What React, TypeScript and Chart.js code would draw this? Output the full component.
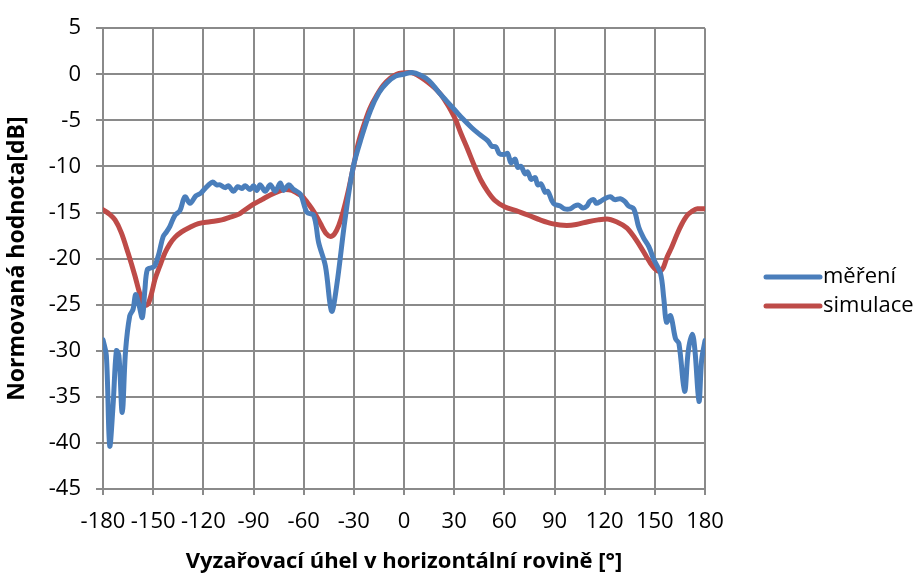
import React, { useEffect, useRef } from "react";
import { Chart, registerables } from "chart.js";

Chart.register(...registerables);

const xTicks = [-180, -150, -120, -90, -60, -30, 0, 30, 60, 90, 120, 150, 180];
const yTicks = [5, 0, -5, -10, -15, -20, -25, -30, -35, -40, -45];

const seriesNames = ["měření", "simulace"];

const measAngles = [
  -180, -178, -176, -174, -172, -170.5, -168.5, -166.5, -164, -162, -160.5, -158.5, -156.5, -155, -153.5,
  -151, -149, -146.5, -144, -142, -140, -137, -134, -131, -128, -124.5, -121.5, -118.5, -114.5, -112,
  -110, -107, -105, -102, -99.5, -97, -95, -92, -90, -88, -86, -83, -80, -77, -74, -72, -69, -66, -62,
  -58, -54, -51, -47, -43.3, -40.3, -35.3, -30.4, -25, -20, -15, -10, -5, 0, 4.6, 10, 15, 20.6, 25,
  30.5, 35, 40.5, 45, 50, 52.5, 55, 57, 60, 62, 64, 66.4, 68, 70, 72.4, 74, 76, 78.4, 80, 82, 84.4, 86,
  88.4, 90, 93.4, 96, 99.4, 102, 104.4, 107, 109.4, 111, 113.4, 115, 117.4, 120, 123.4, 126, 129.4, 132,
  134.4, 137.4, 140.4, 143.4, 146.4, 149.4, 153.4, 155.4, 157, 159.4, 162.4, 164.4, 167.8, 170, 172.4,
  174, 176.4, 178, 180,
];
const measValues = [
  -28.8, -30.5, -40.3, -36, -30, -30.5, -36.7, -30, -26.2, -25.5, -23.9, -25, -26.4, -23.5, -21.2,
  -21, -20.8, -19.4, -17.6, -17.1, -16.5, -15.3, -14.8, -13.3, -14, -13.2, -12.9, -12.3, -11.7, -12,
  -12, -12.3, -12.1, -12.7, -12.2, -12.4, -12.1, -12.5, -12.1, -12.6, -12.0, -12.7, -12.0, -12.7, -11.8,
  -12.6, -12.0, -12.5, -13, -15, -15.3, -18.3, -20.8, -25.7, -23, -15.8, -10.1, -6.6, -3.9, -2.0, -0.9,
  -0.2, 0, 0.2, -0.1, -0.7, -1.9, -2.8, -3.9, -4.8, -5.8, -6.5, -7.2, -7.8, -7.9, -8.6, -8.7, -8.6,
  -9.6, -9.2, -10.1, -10.0, -10.8, -10.6, -11.4, -11.2, -12.0, -11.9, -12.8, -12.7, -13.7, -14.1, -14.3,
  -14.6, -14.6, -14.3, -14.2, -14.5, -14.3, -13.8, -13.6, -14.0, -13.8, -13.5, -13.3, -13.6, -13.5,
  -13.8, -14.3, -14.6, -16.6, -17.8, -18.7, -20.1, -21.6, -24.4, -26.9, -26.2, -28.7, -29.2, -34.4, -30,
  -28.2, -30, -35.5, -31, -28.9,
];

const simAngles = [
  -180, -176, -172.8, -169, -165, -161, -158, -155, -153, -151, -149, -146, -143, -140, -137, -133, -128,
  -123, -116, -109, -104, -99, -95, -90, -85, -80, -75, -71, -67, -64, -60.6, -57, -53.6, -50, -46.5, -44,
  -41.5, -39, -36.7, -33, -30, -27.5, -24, -20.4, -16, -12.4, -8, -4.4, 0, 3, 6, 10, 14.5, 19, 22, 25, 28,
  31, 34, 38, 42, 46, 50, 54.4, 60.4, 67, 74.4, 81.4, 88.4, 97.4, 103, 110, 116, 121.4, 127, 133.4,
  137, 141.4, 145, 147.4, 150, 152.4, 155, 157.4, 160, 163.4, 166, 169.4, 172, 175.4, 180,
];
const simValues = [
  -14.7, -15.2, -15.8, -17.2, -19.4, -21.8, -23.8, -25.1, -24.9, -23.8, -22.3, -20.8, -19.4, -18.4, -17.7,
  -17.1, -16.6, -16.2, -16.0, -15.8, -15.5, -15.2, -14.7, -14.1, -13.6, -13.1, -12.7, -12.5, -12.6, -12.9,
  -13.3, -14.1, -15.0, -16.2, -17.3, -17.6, -17.3, -16.4, -15.1, -12.4, -9.8, -7.6, -5.5, -3.7, -2.2,
  -1.2, -0.4, 0, 0.15, 0.2, 0.1, -0.3, -0.9, -1.6, -2.2, -3.0, -3.9, -5.0, -6.4, -8.1, -9.9, -11.5, -12.7,
  -13.7, -14.4, -14.8, -15.3, -15.8, -16.2, -16.4, -16.3, -16, -15.8, -15.7, -16, -16.7, -17.5, -18.7,
  -19.8, -20.5, -21.1, -21.4, -21, -19.8, -18.8, -17.3, -16.3, -15.3, -14.9, -14.6, -14.6,
];

const seriesColors = ["#4A7EBB", "#BE4B48"];

const FONT = "'Open Sans', 'Liberation Sans', sans-serif";
const GRID = "#8a8a8a";

const legendPlugin = {
  id: "customLegend",
  afterDraw(chart: any) {
    const ctx = chart.ctx;
    ctx.save();
    chart.data.datasets.forEach((ds: any, i: number) => {
      const y = 277 + i * 29;
      ctx.strokeStyle = ds.borderColor;
      ctx.lineWidth = 5;
      ctx.lineCap = "round";
      ctx.beginPath();
      ctx.moveTo(766, y);
      ctx.lineTo(820, y);
      ctx.stroke();
      ctx.fillStyle = "#000";
      ctx.font = `22px ${FONT}`;
      ctx.textBaseline = "middle";
      ctx.textAlign = "left";
      ctx.fillText(ds.label, 823, y);
    });
    ctx.restore();
  },
};

export default function App() {
  const ref = useRef<HTMLCanvasElement>(null);
  useEffect(() => {
    if (!ref.current) return;
    const chart = new Chart(ref.current, {
      type: "line",
      data: {
        datasets: [
          {
            label: seriesNames[0],
            data: measAngles.map((a, i) => ({ x: a, y: measValues[i] })),
            borderColor: seriesColors[0],
            backgroundColor: seriesColors[0],
            borderWidth: 5,
            pointRadius: 0,
            tension: 0.35,
            borderCapStyle: "round",
            borderJoinStyle: "round",
          },
          {
            label: seriesNames[1],
            data: simAngles.map((a, i) => ({ x: a, y: simValues[i] })),
            borderColor: seriesColors[1],
            backgroundColor: seriesColors[1],
            borderWidth: 5,
            pointRadius: 0,
            cubicInterpolationMode: "monotone",
            borderCapStyle: "round",
            borderJoinStyle: "round",
          },
        ],
      },
      options: {
        animation: false,
        responsive: false,
        layout: { padding: { left: 0, right: 215, top: 22, bottom: 0 } },
        plugins: { legend: { display: false }, tooltip: { enabled: false } },
        scales: {
          x: {
            type: "linear",
            min: -180,
            max: 180,
            afterBuildTicks: (s: any) => {
              s.ticks = xTicks.map((v) => ({ value: v }));
            },
            afterFit: (s: any) => {
              s.height = 87;
            },
            grid: { color: GRID, lineWidth: 2, tickLength: 6, drawTicks: true },
            border: { color: GRID, width: 2 },
            ticks: {
              color: "#000",
              font: { family: FONT, size: 22 },
              padding: 14,
              maxRotation: 0,
              autoSkip: false,
            },
            title: {
              display: true,
              text: "Vyzařovací úhel v horizontální rovině [°]",
              color: "#000",
              font: { family: FONT, size: 22, weight: "bold" },
              padding: { top: 0, bottom: 1 },
            },
          },
          y: {
            type: "linear",
            min: -45,
            max: 5,
            afterBuildTicks: (s: any) => {
              s.ticks = yTicks.map((v) => ({ value: v }));
            },
            afterFit: (s: any) => {
              s.width = 103;
            },
            grid: { color: GRID, lineWidth: 2, tickLength: 7, drawTicks: true },
            border: { color: GRID, width: 2 },
            ticks: {
              color: "#000",
              font: { family: FONT, size: 22 },
              padding: 15,
              autoSkip: false,
            },
            title: {
              display: true,
              text: "Normovaná hodnota[dB]",
              color: "#000",
              font: { family: FONT, size: 23, weight: "bold" },
              padding: { top: 4, bottom: 0 },
            },
          },
        },
      },
      plugins: [legendPlugin],
    });
    return () => chart.destroy();
  }, []);
  return (
    <div style={{ position: "fixed", left: 0, top: 0, width: 920, height: 576, background: "#fff" }}>
      <canvas ref={ref} width={920} height={576} style={{ width: 920, height: 576 }} />
    </div>
  );
}
